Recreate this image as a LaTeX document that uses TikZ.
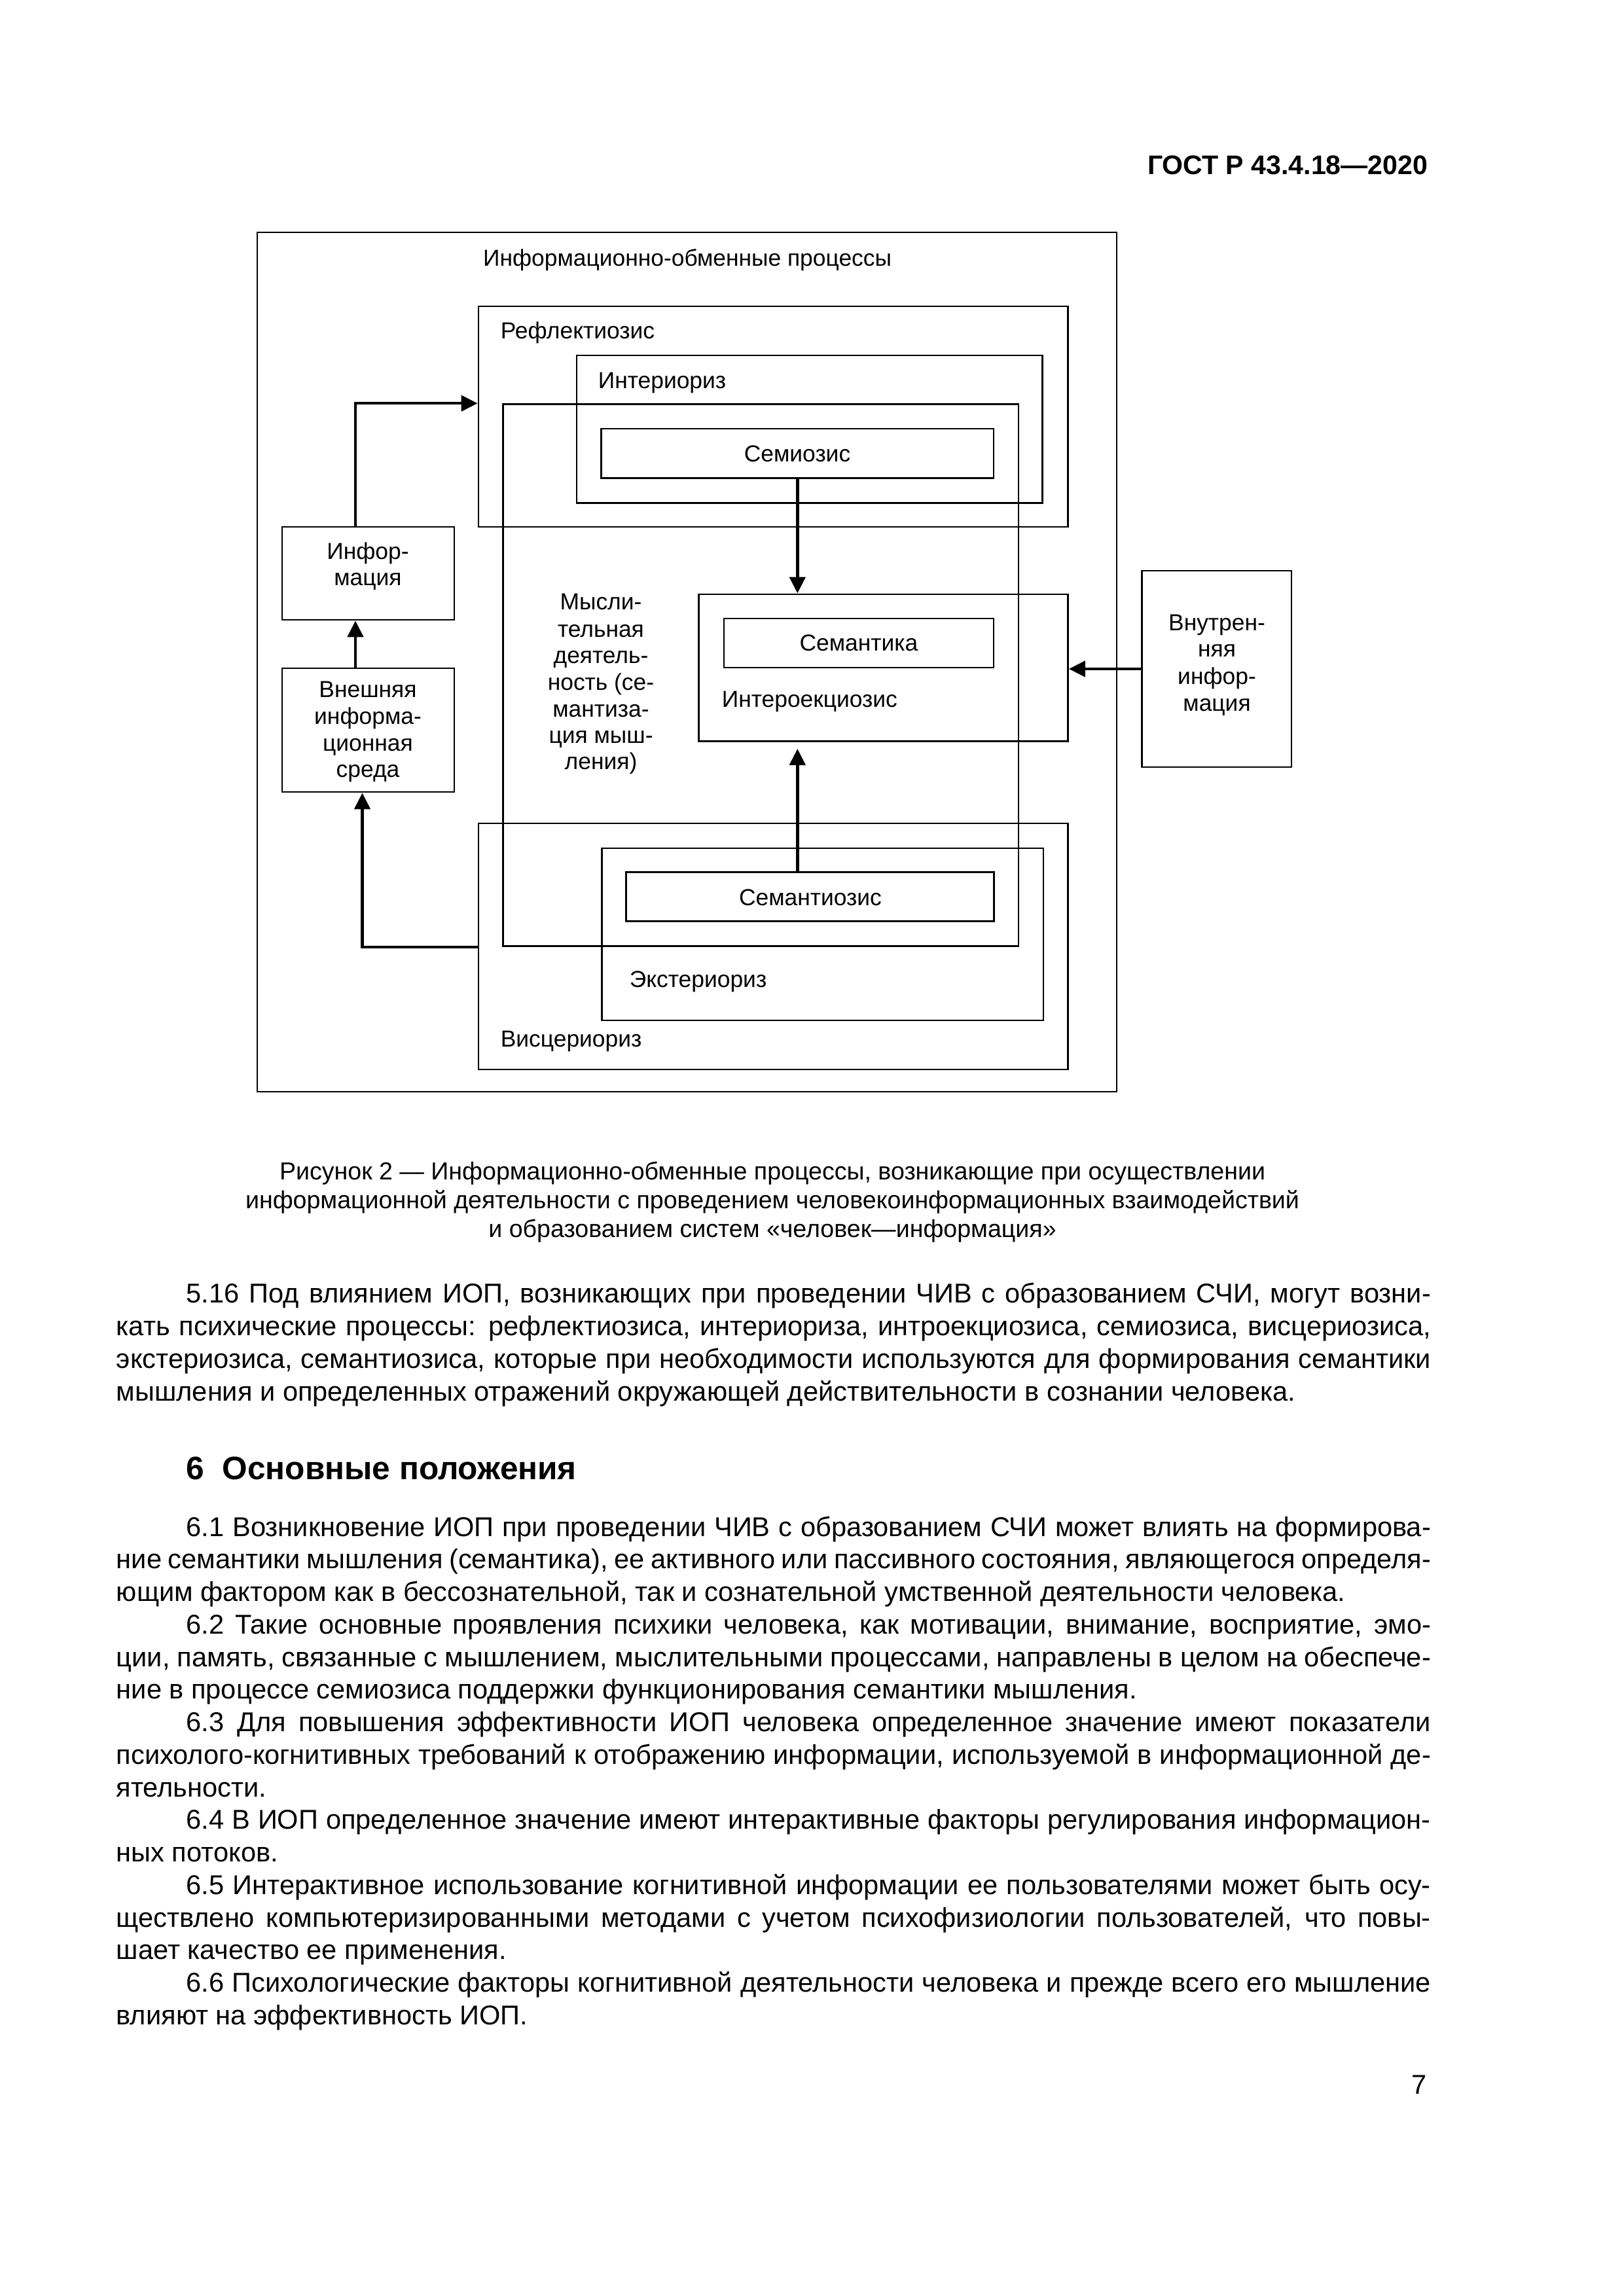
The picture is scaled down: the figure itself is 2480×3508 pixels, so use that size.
\documentclass[tikz,border=0pt]{standalone}
\usepackage{fontspec}
\setmainfont{Liberation Sans}
\usetikzlibrary{arrows.meta,fit}
\newlength\calw
\newcommand\bfnt{\fontsize{\bsz pt}{12pt}\selectfont}
\newcommand\cfnt{\fontsize{\csz pt}{12pt}\selectfont}
\newcommand\dfnt{\fontsize{\dsz pt}{12pt}\selectfont}
\newcommand\hfnt{\fontsize{\hsz pt}{14pt}\selectfont\bfseries}
\newcommand\gfnt{\fontsize{\gsz pt}{14pt}\selectfont\bfseries}
\newcommand\jline[4]{\node[anchor=base west, inner sep=0pt, font=\bfnt] (#1) at #2 {\makebox[#3][s]{#4}};}
\newcommand\pline[3]{\node[anchor=base west, inner sep=0pt, font=\bfnt] (#1) at #2 {#3};}
\AtBeginDocument{%
\settowidth\calw{\fontsize{10pt}{12pt}\selectfont мышления и определенных отражений окружающей действительности в сознании человека.ющим фактором как в бессознательной, так и сознательной умственной деятельности человека.ние в процессе семиозиса поддержки функционирования семантики мышления.}%
\pgfmathsetmacro\bsz{10*1257.12/\calw}\global\let\bsz\bsz
\settowidth\calw{\fontsize{10pt}{12pt}\selectfont Рисунок 2 — Информационно-обменные процессы, возникающие при осуществленииинформационной деятельности с проведением человекоинформационных взаимодействийи образованием систем «человек—информация»}%
\pgfmathsetmacro\csz{10*955.92/\calw}\global\let\csz\csz
\settowidth\calw{\fontsize{10pt}{12pt}\selectfont Информационно-обменные процессыРефлектиозисИнтероекциозисВисцериоризЭкстериориз}%
\pgfmathsetmacro\dsz{10*372.48/\calw}\global\let\dsz\dsz
\settowidth\calw{\fontsize{10pt}{12pt}\selectfont\bfseries ГОСТ Р 43.4.18—2020}%
\pgfmathsetmacro\hsz{10*102.72/\calw}\global\let\hsz\hsz
\settowidth\calw{\fontsize{10pt}{12pt}\selectfont\bfseries 6\ \ Основные положения}%
\pgfmathsetmacro\gsz{10*143.04/\calw}\global\let\gsz\gsz
}
\begin{document}
\begin{tikzpicture}[x=0.24pt,y=-0.24pt,
  box/.style={draw, line width=0.7pt, inner sep=0pt, rectangle},
  arr/.style={line width=1.05pt, -{Triangle[length=6pt,width=5.8pt]}},
  lblw/.style={inner sep=0pt, font=\dfnt, anchor=base west},
  lblc/.style={inner sep=0pt, font=\dfnt, anchor=base}]
\useasboundingbox[fill=white] (0,0) rectangle (2480,3508);
% ---- header ----
\node[anchor=base east, inner sep=0pt, font=\hfnt] (hdr) at (2182,267) {ГОСТ Р 43.4.18—2020};
% ---- diagram boxes ----
\node[box, fit={(393,355) (1706,1668)}] (outer) {};
\node[box, fit={(731,468) (1631.5,805)}] (refl) {};
\node[box, fit={(881,543) (1592.5,768.6)}] (inter) {};
\node[box, fit={(768.6,617.7) (1556,1445.5)}] (mysl) {};
\node[box, fit={(918.6,655) (1518,730.6)}] (semi) {};
\node[box, fit={(1067.8,908) (1631.5,1132.6)}] (intero) {};
\node[box, fit={(1106,945) (1518,1020)}] (semant) {};
\node[box, fit={(431,805) (694,947)}] (info) {};
\node[box, fit={(431,1021) (694,1210)}] (ext) {};
\node[box, fit={(731,1258) (1631.5,1634)}] (visc) {};
\node[box, fit={(919.5,1296) (1594,1559)}] (exter) {};
\node[box, fit={(956.7,1332.6) (1518.8,1407.6)}] (semz) {};
\node[box, fit={(1744.5,872) (1973,1172)}] (vnutr) {};
% ---- diagram labels ----
\node[lblc] (ttl) at (1050,407) {Информационно-обменные процессы};
\node[lblw] (lrefl) at (764,518) {Рефлектиозис};
\node[lblw] (linter) at (913,594) {Интериориз};
\node[lblc] (lsemi) at (1218,706) {Семиозис};
\node[lblc] (lsemant) at (1312,995) {Семантика};
\node[lblw] (lintero) at (1102,1080) {Интероекциозис};
\node[lblc] (lsemz) at (1238,1383) {Семантиозис};
\node[lblw] (lexter) at (961,1508) {Экстериориз};
\node[lblw] (lvisc) at (764,1599) {Висцериориз};
\node[lblc] (li1) at (562,855) {Инфор-};
\node[lblc] (li2) at (562,895) {мация};
\node[lblc] (le1) at (562,1065) {Внешняя};
\node[lblc] (le2) at (562,1106) {информа-};
\node[lblc] (le3) at (562,1147) {ционная};
\node[lblc] (le4) at (562,1187) {среда};
\node[lblc] (lm1) at (918,931.5) {Мысли-};
\node[lblc] (lm2) at (918,973) {тельная};
\node[lblc] (lm3) at (918,1014) {деятель-};
\node[lblc] (lm4) at (918,1054.5) {ность (се-};
\node[lblc] (lm5) at (918,1095) {мантиза-};
\node[lblc] (lm6) at (918,1135) {ция мыш-};
\node[lblc] (lm7) at (918,1175) {ления)};
\node[lblc] (lv1) at (1859,963) {Внутрен-};
\node[lblc] (lv2) at (1859,1004) {няя};
\node[lblc] (lv3) at (1859,1045) {инфор-};
\node[lblc] (lv4) at (1859,1086) {мация};
% ---- connectors ----
\coordinate (ax) at (543,0);
\coordinate (bx) at (553.5,0);
\draw[arr] (info.north -| ax) |- (mysl.north -| refl.west);
\draw[arr] (ext.north -| ax) -- (info.south -| ax);
\draw[arr] (visc.west |- mysl.south) -| (ext.south -| bx);
\draw[arr] (semi.south) -- (intero.north -| semi.south);
\draw[arr, shorten >=2.4pt] (semz.north -| semi.south) -- (intero.south -| semi.south);
\draw[arr] (vnutr.west) -- (intero.east |- vnutr.west);
% ---- caption ----
\node[anchor=base, inner sep=0pt, font=\cfnt] (cap1) at (1180,1802) {Рисунок 2 — Информационно-обменные процессы, возникающие при осуществлении};
\node[anchor=base, inner sep=0pt, font=\cfnt] (cap2) at (1180,1846) {информационной деятельности с проведением человекоинформационных взаимодействий};
\node[anchor=base, inner sep=0pt, font=\cfnt] (cap3) at (1180,1890) {и образованием систем «человек—информация»};
% ---- paragraph 5.16 ----
\jline{p1}{(284,1990)}{456.24pt}{5.16 Под влиянием ИОП, возникающих при проведении ЧИВ с образованием СЧИ, могут возни-}
\jline{p2}{(177,2040)}{481.92pt}{кать психические процессы: рефлектиозиса, интериориза, интроекциозиса, семиозиса, висцериозиса,}
\jline{p3}{(177,2090)}{481.92pt}{экстериозиса, семантиозиса, которые при необходимости используются для формирования семантики}
\pline{p4}{(177,2140)}{мышления и определенных отражений окружающей действительности в сознании человека.}
% ---- heading ----
\node[anchor=base west, inner sep=0pt, font=\gfnt] (head6) at (284,2260) {6\ \ Основные положения};
% ---- section 6 ----
\jline{q1}{(284,2347)}{456.24pt}{6.1 Возникновение ИОП при проведении ЧИВ с образованием СЧИ может влиять на формирова-}
\jline{q2}{(177,2396.75)}{481.92pt}{ние семантики мышления (семантика), ее активного или пассивного состояния, являющегося определя-}
\pline{q3}{(177,2446.5)}{ющим фактором как в бессознательной, так и сознательной умственной деятельности человека.}
\jline{q4}{(284,2496.25)}{456.24pt}{6.2 Такие основные проявления психики человека, как мотивации, внимание, восприятие, эмо-}
\jline{q5}{(177,2546)}{481.92pt}{ции, память, связанные с мышлением, мыслительными процессами, направлены в целом на обеспече-}
\pline{q6}{(177,2595.75)}{ние в процессе семиозиса поддержки функционирования семантики мышления.}
\jline{q7}{(284,2645.5)}{456.24pt}{6.3 Для повышения эффективности ИОП человека определенное значение имеют показатели}
\jline{q8}{(177,2695.25)}{481.92pt}{психолого-когнитивных требований к отображению информации, используемой в информационной де-}
\pline{q9}{(177,2745)}{ятельности.}
\jline{q10}{(284,2794.75)}{456.24pt}{6.4 В ИОП определенное значение имеют интерактивные факторы регулирования информацион-}
\pline{q11}{(177,2844.5)}{ных потоков.}
\jline{q12}{(284,2894.25)}{456.24pt}{6.5 Интерактивное использование когнитивной информации ее пользователями может быть осу-}
\jline{q13}{(177,2944)}{481.92pt}{ществлено компьютеризированными методами с учетом психофизиологии пользователей, что повы-}
\pline{q14}{(177,2993.75)}{шает качество ее применения.}
\jline{q15}{(284,3043.5)}{456.24pt}{6.6 Психологические факторы когнитивной деятельности человека и прежде всего его мышление}
\pline{q16}{(177,3093.25)}{влияют на эффективность ИОП.}
% ---- page number ----
\node[anchor=base east, inner sep=0pt, font=\bfnt] (pgno) at (2180,3199) {7};
\end{tikzpicture}
\end{document}
